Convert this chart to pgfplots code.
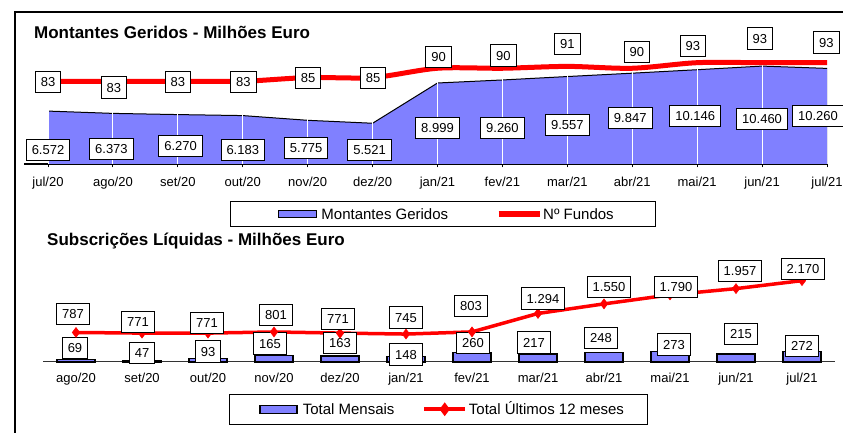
\documentclass[border=0pt]{standalone}
\usepackage{pgfplots}
\usepackage{pgfplotstable}
\pgfplotsset{compat=1.18}
\usepackage{fontspec}
\setmainfont{Liberation Sans}
\definecolor{areablue}{RGB}{128,128,255}
\definecolor{fred}{RGB}{255,0,0}
\newcommand\lblfont{\fontsize{13bp}{15bp}\selectfont}
\newcommand\legfont{\fontsize{15bp}{17bp}\selectfont}
\newcommand\titfont{\fontsize{17bp}{20bp}\selectfont\bfseries}
\tikzset{lblbox/.style={draw=black, text=black, line width=1bp, fill=white, font=\lblfont, inner xsep=5.5bp, inner ysep=0pt, text height=9.5bp, text depth=0bp, minimum height=21.5bp, anchor=center}}
\pgfplotsset{
  lbls/.style={
    nodes near coords,
    point meta=y,
    visualization depends on={\thisrow{dx} \as \dx},
    visualization depends on={\thisrow{dy} \as \dy},
    every node near coord/.append style={lblbox, xshift={\dx*1bp}, yshift={\dy*1bp}},
  },
  numfmt/.style={/pgf/number format/fixed, /pgf/number format/precision=0, /pgf/number format/1000 sep={.}, /pgf/number format/assume math mode=true},
}
\pgfplotstableread{
x y dx dy
0 6572 0 -38.9
1 6373 -1.5 -35.6
2 6270 2.7 -31.4
3 6183 0 -34.4
4 5775 -1.5 -27.7
5 5521 -3 -26.8
6 8999 0 -45
7 9260 0 -48
8 9557 0 -48.5
9 9847 -2 -44.8
10 10146 -2 -46.3
11 10460 0 -52.9
12 10260 -9 -47.6
}\montantes
\pgfplotstableread{
x y dx dy
0 83 0 -0.5
1 83 1 -6.3
2 83 0 -0.6
3 83 0.7 -0.8
4 85 0.5 -0.5
5 85 0.5 -0.5
6 90 1 11.2
7 90 1 13
8 91 0 22.2
9 90 4.7 16.4
10 93 -4.3 16.8
11 93 -2.3 24.1
12 93 -0.7 20.4
}\fundos
\pgfplotstableread{
x y dx dy
0 69 -1 11.4
1 47 0 7.4
2 93 0 6.8
3 165 -4 12.5
4 163 0 13.1
5 148 0 2
6 260 1 9.3
7 217 -4 11.2
8 248 -3 14.7
9 273 4 7.3
10 215 5 20.1
11 272 0 6
}\mensais
\pgfplotstableread{
x y dx dy
0 787 -3 18.5
1 771 -4 11
2 771 -1 10
3 801 2 17
4 771 -2 14
5 745 0 16.5
6 803 -1 26.1
7 1294 5 15.2
8 1550 5 16.7
9 1790 6 8.1
10 1957 4 17.4
11 2170 1 11.4
}\doze
\begin{document}
\begin{tikzpicture}
\path[use as bounding box] (0bp,0bp) rectangle (843bp,433bp);
\fill[white] (0bp,0bp) rectangle (843bp,433bp);
\draw[line width=2bp] (15bp,0bp) -- (15bp,421.3bp) -- (843bp,421.3bp);
\node[anchor=base west, font=\titfont, inner sep=0pt] at (34bp,394bp) {Montantes Geridos - Milhões Euro};
\node[anchor=base west, font=\titfont, inner sep=0pt] at (47bp,187.3bp) {Subscrições Líquidas - Milhões Euro};

% top: area (primary scale)
\begin{axis}[
  at={(24bp,269bp)}, anchor=south west, scale only axis,
  width=803bp, height=124bp,
  xmin=-0.37, xmax=12, ymin=2000, ymax=12714,
  axis x line*=bottom, axis y line=none,
  x axis line style={black, line width=1.3bp},
  xtick={0,...,12},
  xticklabels={jul/20,ago/20,set/20,out/20,nov/20,dez/20,jan/21,fev/21,mar/21,abr/21,mai/21,jun/21,jul/21},
  tick align=outside, major tick length=3.5bp,
  x tick style={black, line width=1bp},
  xticklabel style={font=\lblfont, anchor=north, inner sep=0pt, text height=9.5bp, text depth=0bp, yshift=-9bp},
]
\addplot[fill=areablue, draw=none] table[x=x,y=y]{\montantes} \closedcycle;
\addplot[black, line width=1bp] table[x=x,y=y]{\montantes};
\addplot[gray, line width=1bp] coordinates {(12,2000) (12,10260)};
\end{axis}

% top: grid + Nº Fundos (secondary scale)
\begin{axis}[
  at={(24bp,269bp)}, anchor=south west, scale only axis,
  width=803bp, height=124bp,
  xmin=-0.37, xmax=12, ymin=38.5, ymax=105.2, clip=false,
  axis line style={draw=none}, xtick={0,...,11}, xticklabels={}, ytick=\empty,
  major tick length=0pt, xmajorgrids, major grid style={white, line width=1bp},
  numfmt,
]
\addplot[fred, line width=5bp, smooth, tension=0.5, lbls] table[x=x,y=y]{\fundos};
\end{axis}

% top: labels of Montantes + legend
\begin{axis}[
  at={(24bp,269bp)}, anchor=south west, scale only axis,
  width=803bp, height=124bp,
  xmin=-0.37, xmax=12, ymin=2000, ymax=12714, clip=false,
  hide axis, numfmt,
  legend columns=2,
  legend style={at={(0.2565,-0.2984)}, anchor=north west, draw=black, line width=1bp, fill=white,
    inner xsep=42bp, inner ysep=7bp, font=\legfont,
    nodes={inner sep=0pt, text height=11bp, text depth=0bp},
    /tikz/column 1/.style={column sep=4bp},
    /tikz/column 2/.style={column sep=48bp},
    /tikz/column 3/.style={column sep=1bp}},
]
\addplot[draw=none, forget plot, lbls] table[x=x,y=y]{\montantes};
\addlegendimage{legend image code/.code={\path (-6bp,0bp); \draw[black, line width=1bp, fill=areablue] (0bp,-3.5bp) rectangle (38bp,3.5bp);}}
\addlegendentry{Montantes Geridos}
\addlegendimage{legend image code/.code={\draw[fred, line width=5bp] (0bp,0bp) -- (41bp,0bp);}}
\addlegendentry{Nº Fundos}
\end{axis}

% bottom
\begin{axis}[
  at={(43bp,71bp)}, anchor=south west, scale only axis,
  width=792bp, height=100bp,
  xmin=-0.5, xmax=11.5, ymin=0, ymax=2667, clip=false,
  axis x line*=bottom, axis y line=none,
  x axis line style={black!80, line width=1bp},
  xtick={0,...,11},
  xticklabels={ago/20,set/20,out/20,nov/20,dez/20,jan/21,fev/21,mar/21,abr/21,mai/21,jun/21,jul/21},
  major tick length=0pt,
  xticklabel style={font=\lblfont, anchor=north, inner sep=0pt, text height=9.5bp, text depth=0bp, yshift=-11bp},
  numfmt,
  legend columns=2,
  legend style={at={(0.2348,-0.32)}, anchor=north west, draw=black, line width=1bp, fill=white,
    inner xsep=23bp, inner ysep=9bp, font=\legfont,
    nodes={inner sep=0pt, text height=11bp, text depth=0bp},
    /tikz/column 1/.style={column sep=5bp},
    /tikz/column 2/.style={column sep=28bp},
    /tikz/column 3/.style={column sep=2bp}},
]
\addplot[ybar, bar width=38bp, bar shift=0pt, fill=areablue, draw=black, line width=1.3bp, lbls,
  legend image code/.code={\path (-7bp,0bp); \draw[black, line width=1.3bp, fill=areablue] (0bp,-4bp) rectangle (37bp,4bp);}]
  table[x=x,y=y]{\mensais};
\addlegendentry{Total Mensais}
\addplot[sharp plot, fred, line width=3.5bp, mark=diamond*, mark size=5bp, mark options={line width=0.5bp}, lbls,
  legend image code/.code={\draw[fred, line width=3.5bp] (0bp,0bp) -- (41bp,0bp); \fill[fred] (20.5bp,4bp) -- (17.5bp,0bp) -- (20.5bp,-4bp) -- (23.5bp,0bp) -- cycle;}]
  table[x=x,y=y]{\doze};
\addlegendentry{Total Últimos 12 meses}
\end{axis}
\end{tikzpicture}
\end{document}
